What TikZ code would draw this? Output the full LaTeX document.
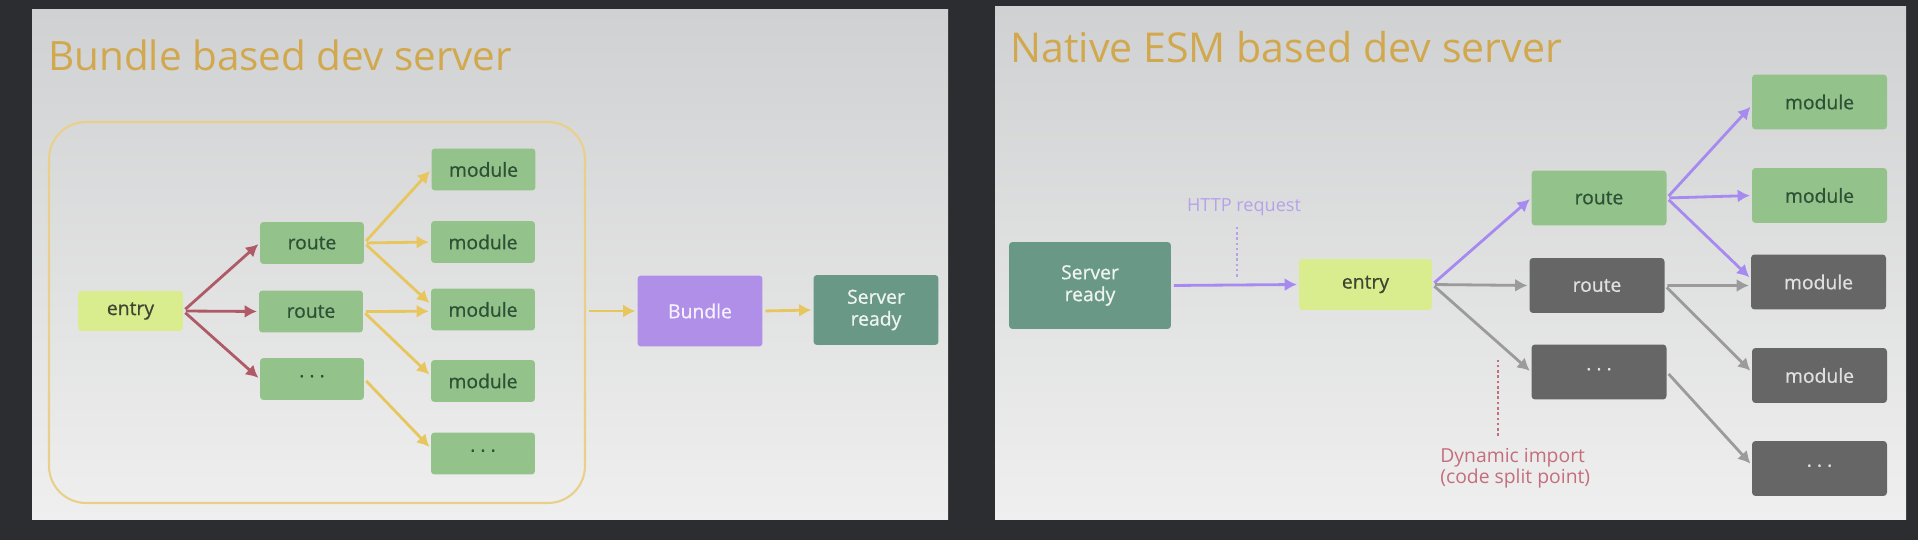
\documentclass[tikz,border=0pt]{standalone}
\usepackage{fontspec}
\setmainfont{Open Sans}
\newfontfamily\boxfont{Open Sans}[FakeBold=0.7]
\usepackage{tikz}
\usetikzlibrary{positioning,arrows.meta,fit,backgrounds}

\definecolor{bgdark}{HTML}{2B2D30}
\definecolor{panelTop}{HTML}{D0D1D2}
\definecolor{panelBot}{HTML}{EFEFEF}
\definecolor{titleGold}{HTML}{D1A84E}
\definecolor{frameYel}{HTML}{E9D08A}
\definecolor{arrYel}{HTML}{E8C65E}
\definecolor{arrRed}{HTML}{AF5A67}
\definecolor{arrPur}{HTML}{A68AF0}
\definecolor{arrGry}{HTML}{9B9B9B}
\definecolor{entryFill}{HTML}{D9EC8E}
\definecolor{entryTxt}{HTML}{3D4633}
\definecolor{grnFill}{HTML}{93C38B}
\definecolor{grnTxt}{HTML}{2E5136}
\definecolor{drkFill}{HTML}{666666}
\definecolor{drkTxt}{HTML}{E0E0E0}
\definecolor{bundFill}{HTML}{B08FE8}
\definecolor{bundTxt}{HTML}{F6F1FF}
\definecolor{srvFill}{HTML}{6A9886}
\definecolor{srvTxt}{HTML}{EEF4F0}
\definecolor{httpTxt}{HTML}{B7A2EA}
\definecolor{dynTxt}{HTML}{C46E7C}

\begin{document}
\begin{tikzpicture}[x=0.02cm, y=-0.02cm,
  box/.style={rounded corners=2pt, inner sep=0pt, align=center, font=\boxfont\fontsize{11}{12.5}\selectfont},
  sbox/.style={box, minimum width=2.08cm, minimum height=0.84cm},
  bbox/.style={box, minimum width=2.7cm, minimum height=1.1cm},
  grn/.style={fill=grnFill, text=grnTxt},
  drk/.style={fill=drkFill, text=drkTxt},
  ent/.style={fill=entryFill, text=entryTxt},
  srv/.style={box, fill=srvFill, text=srvTxt},
  ttl/.style={inner sep=0pt, text=titleGold, anchor=base west},
  arr/.style={line width=1.6pt, -{Latex[length=7pt,width=7.5pt]}, shorten <=1.5pt, shorten >=1pt},
  yarr/.style={arr, arrYel},
  rarr/.style={arr, arrRed},
  parr/.style={arr, arrPur},
  garr/.style={arr, arrGry}]
\useasboundingbox (0,0) rectangle (1918,540);
\fill[bgdark] (0,0) rectangle (1918,540);
\shade[top color=panelTop, bottom color=panelBot] (32,10) rectangle (948,520);
\shade[top color=panelTop, bottom color=panelBot] (995,7) rectangle (1906,520);

%bundle based
\node[ttl, font=\fontsize{23}{26}\selectfont] (ttlL) at (48,71) {Bundle based dev server};
\node[draw=frameYel, line width=1.2pt, rounded corners=21pt, minimum width=10.72cm, minimum height=7.62cm] (grp) at (317,312.5) {};
\node[box, ent, minimum width=2.1cm, minimum height=0.8cm] (eL) at (130.5,311) {entry};
\node[sbox, grn] (rL1) at (312,243) {route};
\node[sbox, grn] (rL2) at (311,311.5) {route};
\node[sbox, grn] (dL) at (312,379) {· · ·};
\node[sbox, grn] (mL1) at (483.5,169.5) {module};
\node[sbox, grn] (mL2) at (483,242) {module};
\node[sbox, grn] (mL3) at (483,309.5) {module};
\node[sbox, grn] (mL4) at (483,381) {module};
\node[sbox, grn] (mL5) at (483,453.5) {· · ·};
\node[box, fill=bundFill, text=bundTxt, minimum width=2.5cm, minimum height=1.42cm] (bund) at (700,311) {Bundle};
\node[srv, minimum width=2.5cm, minimum height=1.4cm] (srvL) at (876,310) {Server\\ready};

\foreach \t in {rL1, rL2, dL}{\draw[rarr] (eL.east) -- (\t.west);}
\draw[yarr] (rL1.east) -- (mL1.west);
\draw[yarr] (rL1.east) -- (mL2.west);
\draw[yarr] (rL1.east) -- ([yshift=3pt]mL3.west);
\draw[yarr] (rL2.east) -- ([yshift=-1pt]mL3.west);
\draw[yarr] (rL2.east) -- ([yshift=3pt]mL4.west);
\draw[yarr] (dL.east) -- ([yshift=3pt]mL5.west);
\draw[yarr] (grp.east |- bund.west) -- (bund.west);
\draw[yarr] (bund.east) -- (srvL.west);

%native esm
\node[ttl, font=\fontsize{23.4}{26}\selectfont] (ttlR) at (1010,63) {Native ESM based dev server};
\node[srv, minimum width=3.24cm, minimum height=1.74cm] (srvR) at (1090,285.5) {Server\\ready};
\node[box, ent, minimum width=2.66cm, minimum height=1.02cm] (eR) at (1365.5,284.5) {entry};
\node[bbox, grn] (rG) at (1599,198) {route};
\node[bbox, drk] (rD) at (1597,285.5) {route};
\node[bbox, drk] (dR) at (1599,372) {· · ·};
\node[bbox, grn] (mR1) at (1819.5,102) {module};
\node[bbox, grn] (mR2) at (1819.5,195.5) {module};
\node[bbox, drk] (mR3) at (1818.5,282) {module};
\node[bbox, drk] (mR4) at (1819.5,375.5) {module};
\node[bbox, drk] (mR5) at (1819.5,468.5) {· · ·};

\node[inner sep=0pt, text=httpTxt, anchor=base, font=\fontsize{10.3}{12}\selectfont] (http) at (1244,212) {HTTP request};
\coordinate (hp) at (1237,277);
\draw[httpTxt, line width=0.9pt, dash pattern=on 1.5pt off 1.5pt] (http.south -| hp) ++(0,10) -- (hp);
\node[inner sep=0pt, text=dynTxt, anchor=north west, align=left, font=\fontsize{11}{12.2}\selectfont] (dyn) at (1440,448) {Dynamic import\\(code split point)};
\coordinate (dp) at (1498,360);
\draw[dynTxt, line width=0.9pt, dash pattern=on 1.5pt off 1.5pt] (dyn.north -| dp) ++(0,-12) -- (dp);

\draw[parr] (srvR.east) -- (eR.west);
\draw[parr] (eR.east) -- (rG.west);
\draw[garr] (eR.east) -- (rD.west);
\draw[garr] (eR.east) -- (dR.west);
\draw[parr] (rG.east) -- ([yshift=-2pt]mR1.west);
\draw[parr] (rG.east) -- (mR2.west);
\draw[parr] (rG.east) -- ([yshift=2pt]mR3.west);
\draw[garr] (rD.east) -- ([yshift=-2pt]mR3.west);
\draw[garr] (rD.east) -- ([yshift=2pt]mR4.west);
\draw[garr] (dR.east) -- ([yshift=2pt]mR5.west);
\end{tikzpicture}
\end{document}
